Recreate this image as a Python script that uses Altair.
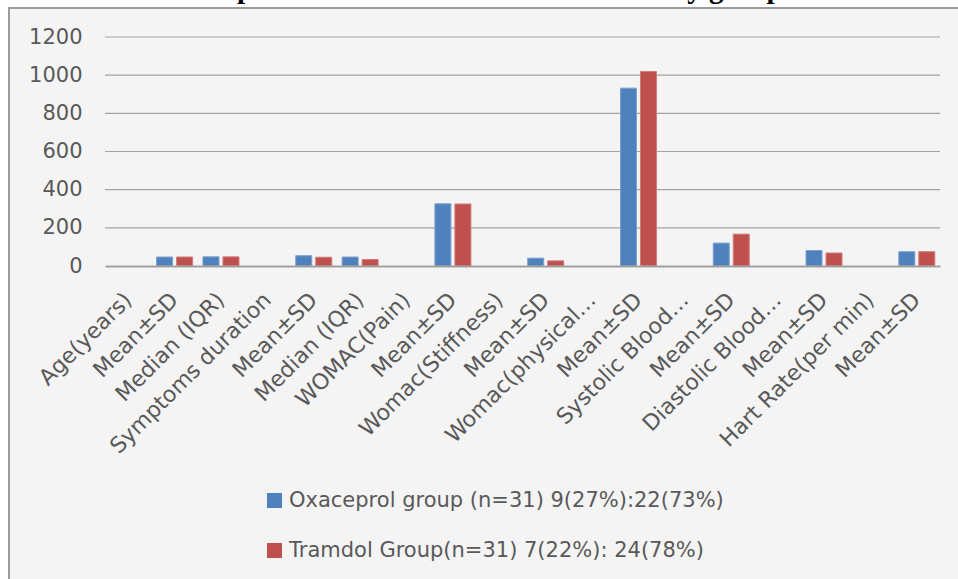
import json
import altair as alt
import pandas as pd

labels = ["Age(years)", "Mean±SD", "Median (IQR)", "Symptoms duration", "Mean±SD",
          "Median (IQR)", "WOMAC(Pain)", "Mean±SD", "Womac(Stiffness)", "Mean±SD",
          "Womac(physical…", "Mean±SD", "Systolic Blood…", "Mean±SD",
          "Diastolic Blood…", "Mean±SD", "Hart Rate(per min)", "Mean±SD"]
oxaceprol = [None, 47, 48, None, 54, 47, None, 326, None, 41, None, 932, None, 120,
             None, 81, None, 75]
tramadol = [None, 47, 48, None, 46, 34, None, 325, None, 27, None, 1019, None, 167,
            None, 68, None, 75]
series = ["Oxaceprol group (n=31) 9(27%):22(73%)", "Tramdol Group(n=31) 7(22%): 24(78%)"]
colors = ["#4F81BD", "#C0504D"]
stroke_colors = ["#7da0cf", "#d07c79"]
y_ticks = [0, 200, 400, 600, 800, 1000, 1200]
title_text = "Graph 1: General characteristics of study groups"

rows = []
for i, lab in enumerate(labels):
    for s, vals in zip(series, [oxaceprol, tramadol]):
        rows.append({"idx": i, "series": s, "value": vals[i]})
df = pd.DataFrame(rows)
grid_df = pd.DataFrame({"tick": y_ticks[1:]})
frame_df = pd.DataFrame({"k": [0]})

label_expr = json.dumps(labels, ensure_ascii=False) + "[datum.value]"
FONT = "DejaVu Sans"
TXT = "#595959"

y_scale = alt.Scale(domain=[0, 1200], nice=False)
y_axis = alt.Axis(values=y_ticks, format="d", ticks=False, domain=False, grid=False,
                  labelFont=FONT, labelFontSize=21, labelColor=TXT,
                  labelPadding=23, zindex=2)

frame = alt.Chart(frame_df).mark_rect(
    fill="#f4f4f4", stroke="#9c9c9c", strokeWidth=2
).encode(
    x=alt.value(-96), x2=alt.value(900), y=alt.value(-29), y2=alt.value(600)
)

grid = alt.Chart(grid_df).mark_rule(color="#a3a3a3", strokeWidth=1.2).encode(
    y=alt.Y("tick:Q", title=None, scale=y_scale, axis=y_axis),
    x=alt.value(0), x2=alt.value(835)
)

bars = alt.Chart(df).mark_bar(strokeWidth=1).encode(
    x=alt.X("idx:O", title=None,
            scale=alt.Scale(domain=list(range(len(labels))), paddingInner=0.224, paddingOuter=0.112),
            axis=alt.Axis(labelExpr=label_expr, labelAngle=-45, labelAlign="right",
                          labelBaseline="middle", labelPadding=30, ticks=False,
                          domainColor="#a0a0a0", domainWidth=2, grid=False,
                          labelFont=FONT, labelFontSize=22, labelColor=TXT,
                          labelLimit=400, labelOverlap=False, zindex=2)),
    xOffset=alt.XOffset("series:N", sort=series,
                        scale=alt.Scale(paddingInner=0.2, paddingOuter=0)),
    y=alt.Y("value:Q", title=None, scale=y_scale, axis=y_axis),
    color=alt.Color("series:N", sort=series,
                    scale=alt.Scale(domain=series, range=colors),
                    legend=alt.Legend(title=None, orient="none", legendX=159, legendY=453,
                                      direction="vertical", symbolType="square",
                                      symbolSize=225, symbolStrokeWidth=0,
                                      labelFont=FONT, labelFontSize=21, labelColor=TXT,
                                      labelLimit=700, rowPadding=28, labelOffset=4,
                                      padding=0, zindex=2)),
    stroke=alt.Stroke("series:N", sort=series,
                      scale=alt.Scale(domain=series, range=stroke_colors), legend=None),
)

chart = alt.layer(frame, grid, bars).properties(
    width=835, height=229,
    padding={"left": 105, "top": 37, "right": 18, "bottom": 313},
    autosize=alt.AutoSizeParams(type="none"),
    title=alt.TitleParams(text=title_text, font="Liberation Serif", fontSize=29,
                          fontWeight="bold", color="black", anchor="middle",
                          frame="group", offset=8, dx=-32, dy=5, zindex=2),
).configure(background="white").configure_view(stroke=None)

chart.save("out.html", embed_options={"renderer": "svg", "actions": False})
